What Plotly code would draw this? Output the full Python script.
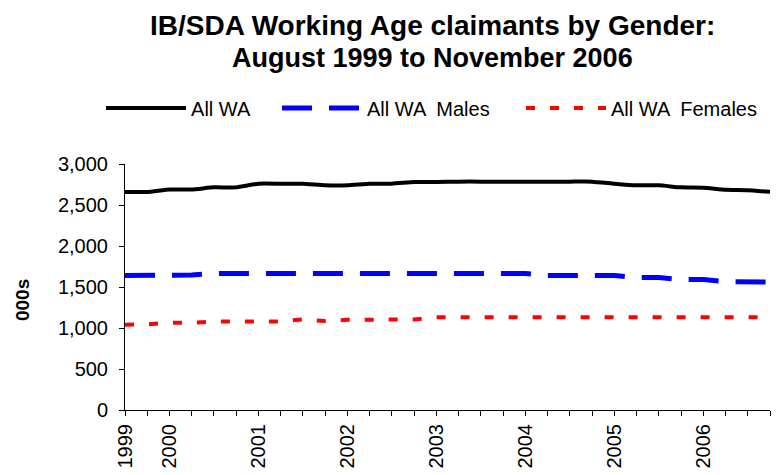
import plotly.graph_objects as go

periods = []
for y in range(1999, 2007):
    for m in ["Feb", "May", "Aug", "Nov"]:
        if y == 1999 and m in ("Feb", "May"):
            continue
        periods.append(f"{m} {y}")

all_wa = [2660, 2660, 2690, 2690, 2715, 2715, 2760, 2760, 2760, 2740,
          2740, 2760, 2760, 2780, 2780, 2785, 2785, 2785, 2785, 2785,
          2785, 2785, 2760, 2740, 2740, 2715, 2710, 2685, 2680, 2660]
males = [1640, 1640, 1640, 1645, 1665, 1665, 1665, 1665, 1665, 1665,
         1665, 1665, 1665, 1665, 1665, 1665, 1665, 1665, 1665, 1640,
         1640, 1640, 1640, 1615, 1615, 1590, 1590, 1565, 1565, 1560]
females = [1040, 1045, 1065, 1065, 1080, 1080, 1080, 1080, 1105, 1085,
           1100, 1105, 1105, 1105, 1130, 1130, 1130, 1130, 1130, 1130,
           1130, 1130, 1130, 1130, 1130, 1130, 1130, 1130, 1130, 1130]

year_labels = {"Aug 1999": "1999", "Feb 2000": "2000", "Feb 2001": "2001",
               "Feb 2002": "2002", "Feb 2003": "2003", "Feb 2004": "2004",
               "Feb 2005": "2005", "Feb 2006": "2006"}
ticktext = [year_labels.get(p, "") for p in periods]
yticks = [0, 500, 1000, 1500, 2000, 2500, 3000]

title_lines = ["IB/SDA Working Age claimants by Gender:", "August 1999 to November 2006"]
y_title = "000s"

FONT = "Liberation Sans, Arial, sans-serif"

fig = go.Figure()
fig.add_trace(go.Scatter(x=periods, y=all_wa, name="All WA", mode="lines",
                         legend="legend",
                         line=dict(color="black", width=4, shape="spline", smoothing=0.4)))
fig.add_trace(go.Scatter(x=periods, y=males, name="All WA  Males", mode="lines",
                         legend="legend2",
                         line=dict(color="#0000ff", width=5, dash="30px,17px")))
fig.add_trace(go.Scatter(x=periods, y=females, name="All WA  Females", mode="lines",
                         legend="legend3",
                         line=dict(color="#ff0000", width=4, dash="9px,15px")))

leg_common = dict(orientation="h", xref="container", yref="container",
                  xanchor="left", y=0.7726, yanchor="middle",
                  font=dict(family=FONT, size=20, color="black"), itemwidth=80,
                  bgcolor="rgba(0,0,0,0)")

fig.update_layout(
    width=776, height=475,
    margin=dict(l=125, r=6, t=164, b=65),
    plot_bgcolor="white", paper_bgcolor="white",
    font=dict(family=FONT, size=20, color="black"),
    legend=dict(x=0.1302, **leg_common),
    legend2=dict(x=0.357, **leg_common),
    legend3=dict(x=0.6714, **leg_common),
    showlegend=True,
    annotations=[
        dict(text=f"<b>{title_lines[0]}</b>", xref="paper", yref="paper",
             x=0.4775, y=1.563, xanchor="center", yanchor="middle", showarrow=False,
             font=dict(family=FONT, size=28, color="black")),
        dict(text=f"<b>{title_lines[1]}</b>", xref="paper", yref="paper",
             x=0.4775, y=1.429, xanchor="center", yanchor="middle", showarrow=False,
             font=dict(family=FONT, size=27, color="black")),
        dict(text=f"<b>{y_title}</b>", xref="paper", yref="paper",
             x=-0.1597, y=0.447, xanchor="center", yanchor="middle", showarrow=False,
             textangle=-90, font=dict(family=FONT, size=19, color="black")),
    ],
)
fig.update_xaxes(type="category", range=[0, 29], tickmode="array",
                 tickvals=periods, ticktext=ticktext, tickangle=-90,
                 ticks="outside", ticklen=5, tickcolor="black",
                 showline=True, linecolor="black", linewidth=1,
                 showgrid=False, zeroline=False,
                 tickfont=dict(family=FONT, size=20))
fig.update_yaxes(range=[0, 3000], tickvals=yticks, tickformat=",",
                 ticks="outside", ticklen=5, tickcolor="black",
                 showline=True, linecolor="black", linewidth=1,
                 showgrid=False, zeroline=False, ticklabelstandoff=7,
                 tickfont=dict(family=FONT, size=20))

fig.write_html("out.html", config={"displayModeBar": False},
               post_script="document.body.style.margin='0';")
